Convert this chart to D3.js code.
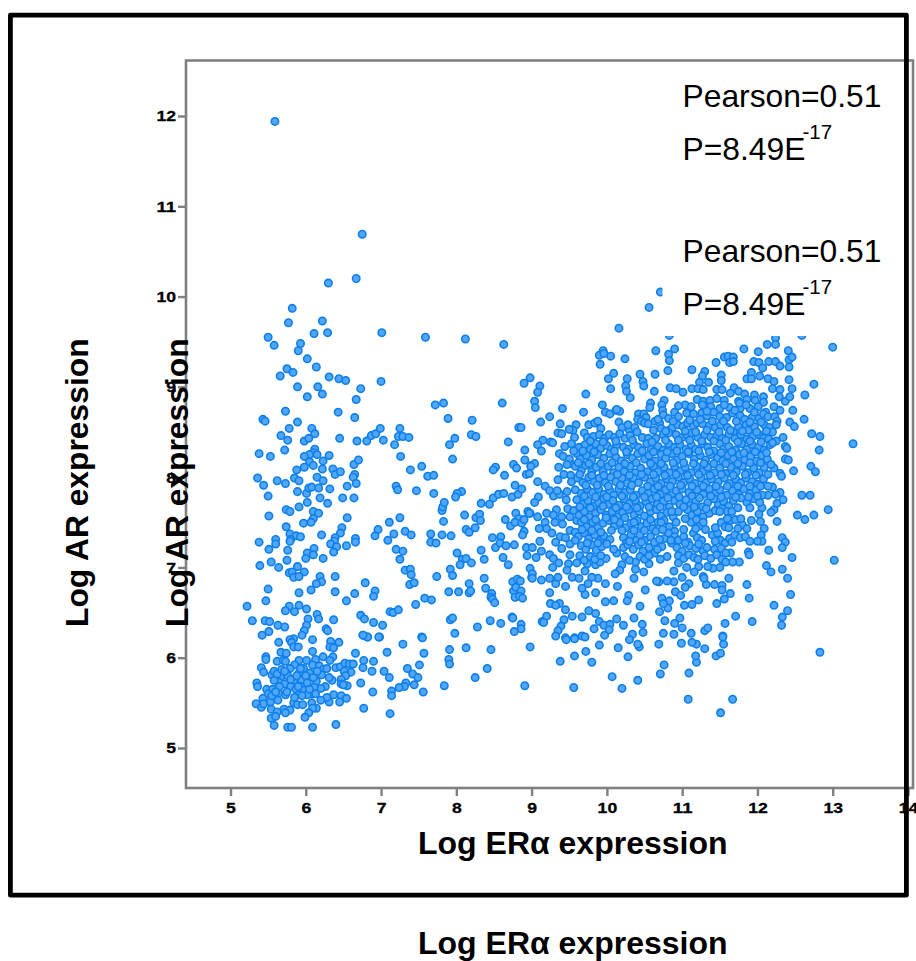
<!DOCTYPE html>
<html>
<head>
<meta charset="utf-8">
<title>AR vs ER expression</title>
<script src="https://cdn.jsdelivr.net/npm/d3@7"></script>
<style>
html, body { margin: 0; padding: 0; background: #fff; }
svg { display: block; }
text { font-family: "Liberation Sans", Arial, sans-serif; fill: #000; }
</style>
</head>
<body>
<div id="chart"></div>
<script>
var xTicks = [5, 6, 7, 8, 9, 10, 11, 12, 13, 14];
var yTicks = [5, 6, 7, 8, 9, 10, 11, 12];
var xLabel = "Log ERα expression";
var yLabel = "Log AR expression";
var statPearson = "Pearson=0.51";
var statP = "P=8.49E";
var statExp = "-17";

// [log ER, log AR]
var topOutliers = [[5.59,11.94],[6.75,10.69],[6.30,10.15],[6.67,10.20],[5.82,9.87],[5.77,9.71],[6.22,9.73],[6.11,9.59],[6.29,9.60],[7.01,9.60],[7.59,9.55],[8.12,9.53],[8.63,9.47],[5.50,9.55],[5.58,9.46],[5.93,9.48],[5.90,9.40],
  [10.71,10.05],[10.56,9.88],[10.16,9.65],[10.83,9.57],[12.59,9.57],[12.24,9.54],[12.13,9.47],[12.24,9.47],[13.0,9.44],[11.82,9.42],[10.65,9.40],[10.90,9.42],[12.01,9.39],[12.41,9.40],[9.95,9.40]];

var leftScatter = [[6.02,9.31],[5.75,9.20],[5.83,9.16],[5.66,9.12],[6.14,9.22],[6.31,9.11],[6.44,9.09],[6.53,9.07],[7.0,9.06],[5.89,9.0],[6.16,9.0],[6.22,8.92],[6.02,8.89],[6.73,8.98],[6.67,8.86],[8.90,9.04],[8.98,9.10],[8.61,8.82],[7.83,8.82],[7.72,8.80],[7.89,8.65],[8.21,8.63],[5.73,8.73],[6.43,8.72],[6.65,8.66],[5.43,8.64],[5.46,8.62],[5.89,8.61],[5.78,8.54],[6.08,8.54],[6.12,8.48],[5.67,8.46],[5.76,8.41],[5.98,8.40],[6.04,8.43],[6.45,8.43],[6.68,8.40],[6.81,8.40],[6.87,8.46],[6.93,8.48],[6.99,8.54],[7.03,8.41],[7.25,8.54],[7.23,8.45],[7.29,8.45],[7.37,8.44],[7.18,8.36],[7.26,8.23],[7.98,8.43],[7.91,8.36],[7.95,8.20],[8.20,8.47],[8.26,8.45],[8.69,8.39],[8.83,8.55],[8.86,8.55],[8.91,8.30],[8.91,8.19],[8.76,8.14],[8.80,8.10],[8.52,8.11],[8.49,8.08],[8.64,8.02],[8.93,8.03],[8.99,8.13],
  [5.72,8.30],[5.38,8.26],[5.53,8.23],[6.12,8.31],[6.10,8.27],[6.15,8.25],[6.05,8.25],[5.98,8.23],[6.31,8.24],[6.23,8.18],[6.05,8.17],[6.10,8.13],[5.98,8.11],[5.88,8.08],[6.22,8.09],[6.36,8.09],[6.39,8.03],[6.46,8.06],[6.64,8.14],[6.70,8.19],[6.65,8.03],[6.63,8.0],[6.67,7.93],[6.55,7.90],[6.15,8.0],[6.23,7.96],[5.85,7.99],[5.91,7.96],[5.62,7.96],[5.73,7.93],[5.36,7.99],[5.44,7.91],[5.50,7.79],[5.89,7.84],[6.01,7.82],[6.04,7.88],[6.08,7.89],[6.17,7.88],[6.32,7.87],[6.19,7.77],[6.02,7.72],[6.29,7.71],[6.49,7.77],[6.64,7.77],[5.91,7.67],[5.74,7.64],[5.79,7.62],[5.51,7.57],[6.10,7.62],[6.17,7.60],[6.10,7.54],[6.07,7.50],[5.97,7.49],[6.55,7.55],[5.74,7.45],[6.48,7.44],[6.46,7.38],[6.21,7.36],[5.79,7.37],[5.87,7.35],[5.93,7.34],[5.80,7.31],[5.79,7.29],[5.60,7.31],[5.60,7.26],[5.38,7.28],[5.51,7.20],[6.39,7.33],[6.38,7.29],[6.66,7.32],[6.66,7.28],[6.54,7.24],[6.33,7.26],[6.41,7.23],[6.37,7.17],[6.11,7.21],[5.76,7.19],[6.02,7.16],[6.10,7.14],[6.0,7.10],[6.23,7.10],[5.75,7.08],[5.54,7.06],[5.39,7.02],[5.64,7.0],[5.89,7.01],[5.78,6.94],[5.82,6.95],[5.98,6.95],[5.84,6.89],[5.91,6.90],[6.19,6.90],[6.39,6.90],[6.21,6.84],[6.14,6.82],[6.07,6.75],[5.91,6.72],[5.50,6.76],[5.47,6.63],[5.22,6.57],[6.39,6.73],[6.54,6.63],[6.65,6.71],[6.79,6.83],[6.92,6.74],[6.90,6.68],[5.91,6.58],[5.78,6.57],[5.73,6.52],[5.85,6.51],[6.01,6.54],[6.15,6.48],[6.17,6.43],[6.03,6.43],[6.37,6.42],[6.01,6.36],[5.98,6.30],[5.95,6.25],[6.27,6.32],[6.29,6.30],[5.63,6.36],[5.72,6.34],[5.46,6.41],[5.52,6.40],[5.29,6.41],[5.51,6.29],[5.42,6.25]];

var midScatter = [[6.73,6.47],[6.78,6.43],[6.90,6.39],[7.02,6.36],[6.76,6.25],[6.82,6.23],[6.98,6.23],[7.12,6.51],[7.16,6.50],[7.23,6.53],[7.46,6.59],[7.58,6.66],[7.67,6.64],[7.92,6.42],[7.95,6.44],[7.98,6.27],[8.28,6.34],[8.45,6.41],[8.59,6.38],[8.74,6.45],[8.75,6.44],[8.86,6.37],[8.86,6.32],[8.77,6.29],[7.54,6.23],[7.90,6.73],[8.03,6.73],[8.17,6.82],[8.17,6.72],[8.19,6.74],[8.37,6.88],[8.39,6.77],[8.47,6.71],[8.46,6.67],[8.48,6.65],[8.51,6.61],[8.75,6.84],[8.81,6.87],[8.85,6.85],[8.76,6.74],[8.79,6.78],[8.86,6.74],[8.78,6.67],[8.84,6.68],[8.88,6.66],[7.92,6.98],[7.95,6.91],[7.74,6.90],[8.01,7.16],[8.08,7.09],[8.13,7.10],[8.05,7.03],[8.20,7.05],[8.33,7.19],[8.37,7.09],[8.62,7.11],[8.69,7.03],[8.98,6.99],[9.0,6.89],[7.20,7.20],[7.29,7.18],[7.25,7.09],[7.32,6.97],[7.39,6.98],[7.40,6.92],[7.38,6.81],[7.44,6.83],[6.96,7.42],[6.92,7.35],[7.11,7.50],[7.25,7.55],[7.17,7.37],[7.09,7.30],[7.32,7.40],[7.40,7.36],[7.66,7.37],[7.66,7.28],[7.73,7.27],[7.81,7.36],[7.93,7.35],[7.83,7.51],[7.81,7.63],[7.82,7.67],[7.84,7.72],[8.11,7.58],[8.26,7.55],[8.31,7.59],[8.32,7.52],[8.13,7.42],[8.17,7.39],[8.25,7.44],[8.33,7.71],[8.44,7.70],[8.49,7.77],[8.56,7.81],[8.63,7.82],[8.74,7.78],[8.82,7.81],[8.87,7.87],[8.78,7.91],[8.07,7.84],[8.01,7.82],[7.99,7.78],[7.70,7.82],[7.47,7.85],[7.20,7.90],[7.22,7.86],[7.39,8.08],[7.54,8.12],[7.62,8.01],[7.70,8.02],[8.48,7.33],[8.59,7.34],[8.52,7.22],[8.58,7.27],[8.66,7.24],[8.77,7.25],[8.93,7.22],[8.94,7.13],[8.65,7.53],[8.72,7.46],[8.79,7.60],[8.83,7.54],[8.78,7.50],[8.87,7.49],[8.90,7.53],[8.95,7.62],[8.98,7.60],[8.90,7.40],[8.88,7.36],
  [7.91,6.09],[8.13,6.11],[8.46,6.09],[8.98,6.12],[7.90,5.98],[7.91,5.93],[8.41,5.88],[8.25,5.78],[8.91,5.69]];

var cloudEdge = [[9.11,9.01],[9.08,8.94],[9.04,8.84],[9.05,8.77],[9.24,8.67],[9.12,8.61],[9.41,8.76],[9.38,8.59],[9.35,8.49],[9.40,8.48],[9.72,8.92],[9.69,8.72],[9.94,8.80],[9.90,9.35],[9.96,9.37],[10.05,9.34],[9.91,9.25],[10.24,9.31],[10.82,9.36],[10.83,9.29],[11.45,9.27],[11.56,9.33],[11.61,9.34],[11.68,9.33],[11.63,9.27],[11.68,9.28],[11.95,9.28],[12.02,9.27],[12.15,9.28],[12.24,9.28],[12.30,9.23],[12.42,9.30],[12.46,9.33],[12.42,9.22],[12.07,9.21],[11.92,9.16],[12.03,9.12],[11.86,9.09],[11.92,9.09],[10.81,9.18],[10.64,9.14],[11.13,9.19],[11.30,9.17],[10.44,9.14],[10.09,9.15],[10.02,9.09],[10.27,9.09],[10.48,9.06],[10.49,9.01],[10.25,9.01],[10.05,8.98],[10.26,8.95],[10.31,8.88],[10.63,8.95],[11.27,9.12],[11.52,9.13],[11.52,9.07],[11.23,9.05],[11.35,9.05],[10.84,8.99],[10.92,8.98],[11.01,8.94],[11.13,8.98],[11.21,8.98],[11.28,8.97],[11.46,8.97],[11.53,8.97],[11.69,8.99],[11.64,8.93],[11.75,8.95],[11.83,8.92],[11.96,8.91],[12.08,8.89],[12.14,9.09],[12.22,9.06],[12.20,8.98],[12.30,8.97],[12.42,9.08],[12.46,8.98],[12.75,9.03],[12.63,8.91],[12.29,8.89],[12.37,8.84],[12.43,8.89],[12.22,8.78],[12.30,8.74],[12.47,8.74],[12.62,8.64],[12.43,8.61],[12.49,8.56],[12.72,8.48],[12.83,8.45],[12.82,8.30],[13.27,8.37],[12.34,8.44],[12.37,8.34],[12.39,8.32],[12.37,8.20],[12.41,8.19],[12.48,8.07],[12.71,8.12],[12.77,8.06],[12.30,8.04],[12.32,8.01],[12.22,8.10],[12.59,7.80],[12.70,7.80],[12.94,7.64],[12.53,7.58],[12.63,7.53],[12.75,7.58],[13.02,7.08],[12.46,7.11],[12.26,7.51],[12.22,7.64],[12.18,7.61],[12.34,7.75],[12.26,7.71],[12.30,7.83],[12.20,7.89],[12.24,7.81],[12.14,7.80],[12.06,7.66],[12.02,7.59],[12.04,7.51],[12.09,7.43],[12.05,7.36],[12.06,7.29],[12.00,7.29],[12.33,7.33],[12.37,7.28],[12.33,7.22],[12.15,7.19],[12.12,7.02],[12.18,6.95],[12.33,6.98],[12.40,6.88],[12.44,6.70],[12.22,6.58],[12.40,6.52],[12.33,6.45],[12.32,6.36],[12.83,6.06],[11.93,6.40],[11.71,6.46],[11.57,6.38],[11.89,6.66],[11.86,6.81],[11.88,7.17],[11.89,7.14],[11.76,7.06],[11.67,7.06],[11.64,7.16],[11.62,6.88],[11.64,6.71],[11.56,6.65],[11.46,6.60],[11.53,6.80],[11.53,6.75],[11.43,6.81],[11.32,6.81],[11.28,6.90],[11.29,6.88],[11.50,7.0],[11.41,6.99],[11.34,7.01],[11.22,7.01],[11.16,6.95],[11.06,7.0],[10.89,6.96],[10.95,7.05],[11.0,6.89],[11.09,6.82],[11.04,6.78],[10.89,6.84],[10.80,6.85],[10.69,6.84],[10.66,6.85],[10.51,6.75],[10.14,6.79],[9.98,6.82],[9.88,6.88],[9.80,6.89],[9.85,6.72],[9.71,6.70],[9.67,6.77],[9.75,6.82],[9.45,6.79],[9.32,6.82],[9.24,6.88],[9.13,6.86],[9.24,6.72],[9.25,6.60],[9.37,6.60],[9.32,6.58],[9.45,6.53],[9.76,6.52],[9.85,6.49],[9.67,6.45],[9.54,6.46],[9.43,6.42],[9.39,6.35],[9.35,6.30],[9.32,6.24],[9.45,6.22],[9.57,6.22],[9.67,6.24],[9.71,6.23],[9.83,6.32],[9.90,6.40],[9.96,6.36],[10.04,6.37],[10.03,6.31],[9.97,6.25],[10.13,6.43],[10.22,6.36],[10.36,6.44],[10.47,6.37],[10.48,6.28],[10.34,6.26],[10.75,6.27],[10.89,6.26],[10.77,6.41],[10.90,6.38],[10.97,6.44],[11.0,6.33],[11.12,6.27],[11.30,6.30],[11.34,6.33],[11.54,6.24],[10.70,6.51],[10.81,6.55],[10.73,6.66],[10.83,6.63],[10.75,6.60],[10.44,6.57],[10.29,6.69],[10.27,6.63],[10.09,6.63],[9.98,6.62],[10.91,6.73],[10.98,6.69],[11.03,6.58],[11.13,6.59],[11.22,6.64],
  [9.14,6.40],[9.20,6.46],[9.16,6.39],[9.38,5.96],[9.57,6.02],[9.72,6.07],[9.80,5.95],[9.90,6.14],[10.15,6.11],[10.28,6.01],[10.07,5.79],[10.20,5.66],[10.41,5.75],[10.71,5.82],[10.76,5.92],[11.09,5.83],[11.08,5.54],[11.67,5.54],[11.51,5.39],[11.19,5.95],[11.18,6.02],[11.45,6.02],[11.51,6.05],[11.55,6.15],[11.54,6.23],[11.30,6.10],[11.19,6.15],[11.13,6.17],[10.99,6.16],[10.69,6.15],[10.43,6.12],[10.41,6.15],[10.30,6.20],[9.46,6.20],[9.56,5.67],[9.57,6.21],
  [9.15,8.41],[9.08,8.36],[9.25,8.39],[9.28,8.38],[9.13,8.29],[9.04,8.15],[8.99,8.12],[8.97,8.04],[9.35,7.97],[9.36,8.11],[9.43,8.03],[9.52,8.02],[9.52,8.15],[9.08,7.95],[9.18,7.90],[9.24,7.85],[9.29,7.79],[9.37,7.81],[9.09,7.78],[9.04,7.72],[9.33,7.64],[9.46,7.75],[9.48,7.65],[8.97,7.60],[9.08,7.56],[9.20,7.60],[9.29,7.58],[9.40,7.56],[9.51,7.56],[9.60,7.52],[9.31,7.50],[9.41,7.48],[9.18,7.50],[9.10,7.43],[9.20,7.43],[9.51,7.41],[9.58,7.39],[9.27,7.38],[9.38,7.34],[9.45,7.33],[9.11,7.29],[9.32,7.28],[9.51,7.26],[9.01,7.22],[9.13,7.18],[9.06,7.11],[9.24,7.14],[9.29,7.10],[9.40,7.21],[9.51,7.14],[9.36,7.05],[9.60,7.05],[9.49,7.04],[9.28,7.0],[9.01,6.93],[9.01,6.88],[9.35,6.89],[9.47,6.97],[9.54,6.89],[9.63,6.88],[9.74,7.04],[9.71,6.96],[9.85,7.03],[9.91,7.06],[9.99,7.10],[10.13,7.16],[10.20,7.03],[10.17,6.97],[10.11,6.93],[10.38,6.98],[10.38,7.06],[10.49,6.95],[10.36,6.88],[10.56,7.04],[10.63,7.16],[10.73,7.23],[10.80,7.12],[10.71,7.09]];

// the dense part overlaps a lot, these are rough readings
var denseCloud = [[10.76,8.85],[11.20,8.86],[11.28,8.84],[11.37,8.85],[11.46,8.87],[11.56,8.85],[11.75,8.84],[11.86,8.86],[11.97,8.85],[12.08,8.83],
  [10.58,8.82],[10.57,8.77],[10.73,8.80],[10.74,8.74],[11.04,8.80],[11.27,8.80],[11.38,8.78],[11.50,8.76],[11.63,8.77],[11.77,8.76],[11.90,8.76],[12.01,8.78],[12.11,8.72],[11.76,8.82],[11.85,8.80],
  [9.98,8.72],[10.04,8.70],[10.12,8.74],[10.17,8.73],[10.13,8.75],[10.42,8.70],[10.49,8.70],[10.52,8.66],[10.41,8.64],[10.46,8.62],[10.50,8.60],[10.75,8.69],[10.82,8.65],[10.90,8.72],[10.95,8.67],[11.06,8.71],[11.15,8.70],[11.26,8.71],[11.33,8.68],[11.42,8.72],[11.50,8.67],[11.59,8.66],[11.67,8.71],[11.77,8.68],[11.83,8.64],[11.93,8.66],[12.02,8.65],[12.08,8.70],[12.14,8.67],[12.23,8.67],[12.26,8.62],
  [9.59,8.58],[9.55,8.52],[9.76,8.58],[9.84,8.60],[9.88,8.62],[9.92,8.54],[10.16,8.61],[10.20,8.55],[10.30,8.52],[10.37,8.55],[10.55,8.59],[10.64,8.62],[10.70,8.60],[10.72,8.54],[10.83,8.52],[10.87,8.55],[10.94,8.58],[11.01,8.56],[11.07,8.60],[11.15,8.56],[11.20,8.60],[11.27,8.59],[11.36,8.57],[11.44,8.55],[11.51,8.58],[11.60,8.55],[11.68,8.50],[11.75,8.56],[11.85,8.58],[11.88,8.52],[11.96,8.56],[12.09,8.58],[12.16,8.55],[12.20,8.50],[12.25,8.58],
  [9.50,8.53],[9.57,8.44],[9.70,8.49],[9.74,8.44],[9.82,8.45],[9.90,8.47],[9.97,8.43],[10.03,8.47],[10.10,8.44],[10.17,8.48],[10.24,8.43],[10.31,8.46],[10.40,8.50],[10.47,8.44],[10.55,8.43],[10.65,8.43],[10.75,8.47],[10.82,8.49],[10.92,8.47],[11.00,8.44],[11.06,8.47],[11.13,8.49],[11.21,8.44],[11.30,8.47],[11.38,8.44],[11.46,8.46],[11.53,8.43],[11.62,8.47],[11.70,8.43],[11.78,8.47],[11.86,8.42],[11.94,8.45],[12.02,8.47],[12.08,8.43],[12.15,8.42],[12.25,8.40],
  [9.44,8.34],[9.53,8.37],[9.63,8.33],[9.71,8.36],[9.78,8.31],[9.85,8.37],[9.92,8.32],[10.00,8.35],[10.06,8.31],[10.13,8.36],[10.22,8.33],[10.29,8.31],[10.36,8.36],[10.42,8.33],[10.53,8.37],[10.59,8.31],[10.68,8.34],[10.75,8.30],[10.82,8.37],[10.90,8.33],[10.97,8.36],[11.05,8.31],[11.12,8.36],[11.18,8.31],[11.27,8.37],[11.34,8.33],[11.42,8.29],[11.50,8.37],[11.55,8.31],[11.62,8.34],[11.71,8.30],[11.79,8.37],[11.86,8.31],[11.93,8.36],[12.01,8.33],[12.09,8.30],[12.17,8.36],
  [9.37,8.26],[9.42,8.23],[9.50,8.20],[9.60,8.26],[9.65,8.20],[9.73,8.24],[9.80,8.19],[9.88,8.25],[9.96,8.21],[10.04,8.26],[10.12,8.22],[10.19,8.18],[10.27,8.25],[10.34,8.21],[10.41,8.26],[10.50,8.20],[10.56,8.24],[10.64,8.18],[10.72,8.25],[10.78,8.21],[10.86,8.26],[10.93,8.19],[11.00,8.23],[11.09,8.26],[11.16,8.20],[11.24,8.24],[11.31,8.19],[11.38,8.25],[11.47,8.21],[11.54,8.18],[11.61,8.24],[11.68,8.20],[11.76,8.25],[11.83,8.19],[11.91,8.23],[11.99,8.18],[12.06,8.24],[12.13,8.20],
  [9.58,8.12],[9.66,8.07],[9.72,8.13],[9.80,8.06],[9.86,8.11],[9.95,8.06],[10.02,8.12],[10.09,8.05],[10.16,8.11],[10.23,8.06],[10.31,8.12],[10.38,8.05],[10.45,8.10],[10.54,8.06],[10.62,8.12],[10.68,8.06],[10.76,8.11],[10.83,8.05],[10.90,8.12],[10.98,8.07],[11.04,8.11],[11.12,8.05],[11.19,8.12],[11.27,8.06],[11.34,8.11],[11.43,8.05],[11.50,8.10],[11.58,8.04],[11.65,8.11],[11.72,8.06],[11.80,8.12],[11.87,8.05],[11.95,8.10],[12.02,8.05],[12.09,8.11],
  [9.53,7.95],[9.61,7.99],[9.68,7.94],[9.76,8.00],[9.83,7.95],[9.90,7.99],[9.98,7.94],[10.05,8.00],[10.12,7.95],[10.20,7.99],[10.27,7.93],[10.35,7.99],[10.42,7.94],[10.50,8.00],[10.58,7.95],[10.65,7.99],[10.72,7.93],[10.80,7.98],[10.87,7.95],[10.95,8.00],[11.02,7.94],[11.10,7.98],[11.17,7.93],[11.25,7.99],[11.32,7.94],[11.39,7.98],[11.48,7.95],[11.56,7.99],[11.63,7.93],[11.71,7.98],[11.78,7.94],[11.85,7.99],[11.93,7.95],[12.00,7.92],[12.08,7.98],[12.14,7.90],
  [9.34,7.85],[9.47,7.84],[9.58,7.86],[9.66,7.82],[9.74,7.87],[9.81,7.83],[9.89,7.87],[9.96,7.81],[10.04,7.85],[10.09,7.80],[10.16,7.87],[10.24,7.83],[10.31,7.86],[10.39,7.80],[10.47,7.85],[10.55,7.82],[10.63,7.87],[10.71,7.81],[10.78,7.86],[10.86,7.80],[10.92,7.85],[11.00,7.87],[11.09,7.83],[11.13,7.79],[11.20,7.86],[11.28,7.81],[11.36,7.87],[11.44,7.82],[11.50,7.86],[11.59,7.80],[11.67,7.85],[11.75,7.81],[11.82,7.87],[11.90,7.82],[11.98,7.86],[12.06,7.80],
  [9.60,7.75],[9.68,7.70],[9.75,7.74],[9.82,7.68],[9.89,7.72],[9.96,7.76],[10.02,7.70],[10.08,7.74],[10.16,7.69],[10.23,7.76],[10.30,7.71],[10.38,7.74],[10.44,7.68],[10.52,7.73],[10.60,7.76],[10.67,7.70],[10.75,7.73],[10.83,7.67],[10.90,7.74],[10.97,7.70],[11.05,7.75],[11.11,7.69],[11.18,7.73],[11.27,7.67],[11.34,7.72],[11.42,7.76],[11.48,7.69],[11.55,7.73],[11.62,7.68],[11.68,7.74],[11.78,7.77],[11.86,7.72],[11.95,7.76],[12.03,7.72],
  [9.56,7.63],[9.63,7.58],[9.70,7.62],[9.77,7.56],[9.85,7.60],[9.92,7.64],[9.99,7.58],[10.07,7.62],[10.14,7.56],[10.21,7.61],[10.29,7.64],[10.36,7.58],[10.43,7.62],[10.50,7.57],[10.58,7.62],[10.66,7.64],[10.72,7.57],[10.80,7.61],[10.88,7.56],[10.95,7.62],[11.07,7.64],[11.13,7.58],[11.20,7.62],[11.28,7.56],[11.36,7.60],[11.44,7.63],[11.53,7.65],[11.60,7.62],
  [9.66,7.50],[9.73,7.45],[9.81,7.50],[9.88,7.44],[9.95,7.49],[10.03,7.52],[10.10,7.46],[10.17,7.50],[10.25,7.44],[10.32,7.49],[10.40,7.52],[10.46,7.45],[10.53,7.49],[10.61,7.43],[10.68,7.50],[10.76,7.52],[10.83,7.45],[10.90,7.40],[11.12,7.50],[11.19,7.53],[11.24,7.46],[11.31,7.42],[11.52,7.50],[11.57,7.45],[11.64,7.52],[11.71,7.53],[11.80,7.47],[11.86,7.43],[11.92,7.52],
  [9.62,7.34],[9.70,7.38],[9.76,7.32],[9.84,7.36],[9.91,7.30],[9.96,7.35],[10.04,7.31],[10.22,7.33],[10.26,7.27],[10.32,7.36],[10.39,7.30],[10.44,7.36],[10.50,7.30],[10.58,7.34],[10.63,7.28],[10.77,7.32],[10.82,7.38],[10.90,7.34],[10.95,7.30],[11.02,7.34],[11.08,7.28],[11.15,7.38],[11.20,7.33],[11.26,7.30],[11.40,7.36],[11.47,7.38],[11.51,7.30],[11.57,7.27],[11.63,7.32],[11.70,7.36],[11.77,7.33],[11.84,7.34],[11.90,7.29],
  [9.66,7.24],[9.72,7.20],[9.80,7.25],[9.86,7.19],[9.93,7.23],[10.00,7.26],[10.09,7.20],[10.22,7.22],[10.28,7.25],[10.35,7.20],[10.42,7.25],[10.48,7.18],[10.56,7.22],[10.67,7.20],[10.86,7.27],[10.93,7.22],[11.00,7.18],[11.10,7.24],[11.18,7.21],[11.28,7.18],[11.33,7.22],[11.43,7.20],[11.52,7.21],[11.58,7.16],
  [9.64,7.13],[9.70,7.08],[9.78,7.12],[9.84,7.09],[9.92,7.13],[10.24,7.12],[10.30,7.08],[10.44,7.12],[10.50,7.09],[10.56,7.13],[10.95,7.13],[11.02,7.10],[11.09,7.14],[11.16,7.11],[11.21,7.09],[11.30,7.13],[11.38,7.10],[11.46,7.14],[11.53,7.09],[11.58,7.06]];

// second pass over the thickest area, between the rows above
var denseFill = [[10.95,8.79],[11.12,8.78],[11.33,8.73],[11.56,8.80],[11.70,8.74],[11.96,8.72],
  [10.68,8.64],[10.88,8.62],[11.10,8.63],[11.24,8.64],[11.40,8.62],[11.55,8.62],[11.72,8.62],[11.90,8.61],[12.05,8.61],
  [10.28,8.58],[10.62,8.52],[10.78,8.51],[11.04,8.51],[11.18,8.50],[11.33,8.52],[11.49,8.50],[11.64,8.52],[11.80,8.51],[11.99,8.50],[12.12,8.51],
  [9.78,8.40],[9.95,8.39],[10.12,8.40],[10.34,8.41],[10.60,8.39],[10.78,8.41],[10.95,8.41],[11.10,8.41],[11.26,8.40],[11.42,8.40],[11.58,8.41],[11.74,8.39],[11.90,8.40],[12.05,8.39],[12.20,8.38],
  [9.56,8.29],[9.68,8.29],[9.83,8.28],[10.10,8.29],[10.26,8.28],[10.47,8.29],[10.62,8.28],[10.80,8.28],[10.93,8.29],[11.08,8.28],[11.22,8.29],[11.36,8.28],[11.52,8.27],[11.66,8.28],[11.82,8.27],[11.97,8.28],[12.12,8.27],
  [9.47,8.14],[9.62,8.16],[9.76,8.15],[9.92,8.15],[10.07,8.16],[10.24,8.15],[10.39,8.16],[10.58,8.15],[10.72,8.15],[10.88,8.16],[11.02,8.16],[11.15,8.15],[11.29,8.15],[11.42,8.15],[11.58,8.15],[11.74,8.15],[11.90,8.16],[12.04,8.16],[12.18,8.14],
  [9.64,8.03],[9.80,8.02],[9.96,8.02],[10.14,8.03],[10.30,8.02],[10.46,8.03],[10.62,8.03],[10.77,8.02],[10.92,8.03],[11.07,8.02],[11.22,8.03],[11.37,8.02],[11.52,8.03],[11.68,8.02],[11.84,8.03],[11.98,8.02],[12.14,8.03],
  [9.72,7.91],[9.87,7.91],[10.02,7.90],[10.18,7.91],[10.33,7.91],[10.54,7.90],[10.68,7.90],[10.84,7.90],[10.98,7.91],[11.13,7.90],[11.28,7.90],[11.45,7.90],[11.60,7.90],[11.74,7.90],[11.90,7.90],[12.04,7.90],
  [9.70,7.79],[9.85,7.78],[10.00,7.78],[10.20,7.79],[10.35,7.78],[10.50,7.78],[10.66,7.78],[10.81,7.77],[10.96,7.78],[11.23,7.77],[11.38,7.79],[11.52,7.78],[11.71,7.78],[11.88,7.78],[12.00,7.79],
  [9.64,7.67],[9.78,7.66],[9.95,7.68],[10.12,7.66],[10.26,7.67],[10.40,7.66],[10.56,7.67],[10.71,7.67],[10.86,7.62],[11.02,7.67],[11.16,7.67],[11.32,7.65],[11.50,7.62],[11.66,7.62],[11.74,7.66],[11.90,7.66],
  [9.70,7.53],[9.85,7.53],[9.99,7.55],[10.10,7.53],[10.24,7.55],[10.36,7.50],[10.58,7.53],[10.72,7.50],[10.92,7.50],[11.04,7.54],[11.28,7.50],[11.60,7.54],[11.78,7.54],
  [9.67,7.42],[9.80,7.41],[9.92,7.39],[10.06,7.41],[10.20,7.41],[10.36,7.41],[10.50,7.41],[10.65,7.40],[10.74,7.42],[11.02,7.42],[11.18,7.43],[11.44,7.44],[11.62,7.44],[11.74,7.43],
  [9.58,7.30],[9.74,7.27],[9.88,7.27],[10.30,7.29],[10.46,7.28],[10.70,7.31],[10.85,7.30],[11.04,7.27],[11.22,7.26],[11.44,7.29],[11.66,7.28]];

var lowCluster = [[6.44,6.17],[6.33,6.18],[6.32,6.12],[6.37,6.11],[6.09,6.20],[5.84,6.21],[5.79,6.2],[5.81,6.17],[5.84,6.12],[5.90,6.12],[5.64,6.17],[6.66,6.05],[7.08,6.06],[7.29,6.15],[7.55,6.22],[7.57,6.05],[6.97,6.23],[6.82,6.23],[6.76,6.25],[6.09,6.07],[5.67,6.06],[5.74,6.05],[5.47,6.01],[5.47,5.98],[6.23,6.01],[6.36,6.01],[6.32,5.97],[5.41,5.89],[5.44,5.84],[5.62,5.96],[5.70,5.97],[5.73,5.96],[5.91,5.97],[6.01,5.97],[6.13,5.98],[5.85,5.92],[5.97,5.88],[6.09,5.92],[6.18,5.91],[6.23,5.87],[6.28,5.88],[6.40,5.89],[6.46,5.90],[6.52,5.94],[6.58,5.93],[6.63,5.93],[6.77,5.97],[6.76,5.89],[6.90,5.96],[6.88,5.85],[7.04,5.85],[7.11,5.78],[7.35,5.88],[7.51,5.92],[7.42,5.82],[7.49,5.78],[7.84,5.69],[7.44,5.70],[7.33,5.72],[7.31,5.68],[7.24,5.67],[7.14,5.63],[7.14,5.58],[7.56,5.62],[6.89,5.62],[6.73,5.72],[6.60,5.84],[6.51,5.85],[6.53,5.80],[6.47,5.76],[6.35,5.75],[6.31,5.78],[6.21,5.81],[6.14,5.74],[6.26,5.68],[6.20,5.66],[6.47,5.71],[6.55,5.69],[6.50,5.70],[6.37,5.59],[6.47,5.58],[6.54,5.55],[6.45,5.51],[6.31,5.51],[6.28,5.56],[6.20,5.53],[6.08,5.60],[5.97,5.74],[6.05,5.83],[5.91,5.83],[5.94,5.76],[5.84,5.75],[5.79,5.88],[5.74,5.83],[5.67,5.79],[5.55,5.81],[5.64,5.73],[5.58,5.75],[5.72,5.71],[5.80,5.68],[5.87,5.65],[5.98,5.64],[6.11,5.67],[5.35,5.72],[5.36,5.68],[5.48,5.65],[5.56,5.65],[5.64,5.61],[5.50,5.60],[5.73,5.59],[5.91,5.59],[6.02,5.59],[5.63,5.53],[5.43,5.55],[5.34,5.49],[5.41,5.45],[5.44,5.49],[5.53,5.51],[5.84,5.50],[5.89,5.48],[5.96,5.48],[6.08,5.50],[5.71,5.43],[5.79,5.42],[5.54,5.43],[5.62,5.40],[5.73,5.39],[6.14,5.44],[6.09,5.44],[6.04,5.39],[5.99,5.34],[5.54,5.33],[5.60,5.35],[5.58,5.25],[5.76,5.23],[5.81,5.23],[6.09,5.23],[6.40,5.26],[6.77,5.44],[7.12,5.38],
  [5.58,5.85],[5.62,5.82],[5.68,5.87],[5.76,5.80],[5.80,5.76],[5.72,5.85],[5.88,5.80],[5.93,5.88],[6.00,5.80],[6.02,5.72],[6.10,5.78],[6.15,5.85],[5.65,5.68],[5.75,5.62],[5.90,5.68],[6.05,5.65],[5.95,5.58],[6.13,5.60],[5.55,5.58],[5.60,5.62],[5.85,5.56]];

var allPoints = [].concat(topOutliers, leftScatter, midScatter, cloudEdge, denseCloud, denseFill, lowCluster);

var width = 916, height = 961;
var svg = d3.select("#chart").append("svg").attr("width", width).attr("height", height);

var x = d3.scaleLinear().domain([5, 14]).range([230.5, 908]);
var y = d3.scaleLinear().domain([5, 12]).range([748, 116]);

var axisColor = "#808080";

// plot box
svg.append("rect").attr("x", 186).attr("y", 60.5).attr("width", 727).attr("height", 727.5)
    .attr("fill", "none").attr("stroke", axisColor).attr("stroke-width", 2.6);

var xAxis = svg.append("g").attr("transform", "translate(0,788)")
    .call(d3.axisBottom(x).tickValues(xTicks).tickSize(8).tickPadding(6).tickFormat(d3.format("d")));
var yAxis = svg.append("g").attr("transform", "translate(186,0)")
    .call(d3.axisLeft(y).tickValues(yTicks).tickSize(8).tickPadding(2).tickFormat(d3.format("d")));

[xAxis, yAxis].forEach(function (ax) {
    ax.select(".domain").remove();
    ax.selectAll("line").attr("stroke", axisColor).attr("stroke-width", 2.4);
    ax.selectAll("text")
        .attr("font-family", "Liberation Sans")
        .attr("font-size", 15.5)
        .attr("font-weight", "bold")
        .attr("fill", "#000")
        .attr("stroke", "#000")
        .attr("stroke-width", 0.3)
        .attr("lengthAdjust", "spacingAndGlyphs")
        .attr("textLength", function (d) { return String(d).length * 9.8; });
});

// points
svg.append("g").selectAll("circle").data(allPoints).enter().append("circle")
    .attr("cx", function (d) { return x(d[0]); })
    .attr("cy", function (d) { return y(d[1]); })
    .attr("r", 3.7)
    .attr("fill", "#4fa6fb")
    .attr("stroke", "#0f7fe8")
    .attr("stroke-width", 1.6);

// white box pasted over the points behind the second stats block
svg.append("rect").attr("x", 662.5).attr("y", 225).attr("width", 240).attr("height", 111).attr("fill", "#fff");

function addStats(top) {
    svg.append("text").attr("x", 682.5).attr("y", top).attr("font-size", 31.8).text(statPearson);
    svg.append("text").attr("x", 682.5).attr("y", top + 53.5).attr("font-size", 31.8).text(statP);
    svg.append("text").attr("x", 802.5).attr("y", top + 32).attr("font-size", 20.5).text(statExp);
}
addStats(106.7);
addStats(261.7);

// axis titles are in the picture twice
function addYLabel(px) {
    svg.append("text").attr("transform", "translate(" + px + ",627) rotate(-90)")
        .attr("font-size", 31.8).attr("font-weight", "bold").text(yLabel);
}
addYLabel(88);
addYLabel(188);

function addXLabel(py) {
    svg.append("text").attr("x", 418).attr("y", py)
        .attr("font-size", 32).attr("font-weight", "bold").text(xLabel);
}
addXLabel(854);
addXLabel(954);

// outer black frame
svg.append("rect").attr("x", 10.4).attr("y", 15.2).attr("width", 896).attr("height", 880)
    .attr("fill", "none").attr("stroke", "#000").attr("stroke-width", 4.8).attr("stroke-linejoin", "round");
</script>
</body>
</html>
